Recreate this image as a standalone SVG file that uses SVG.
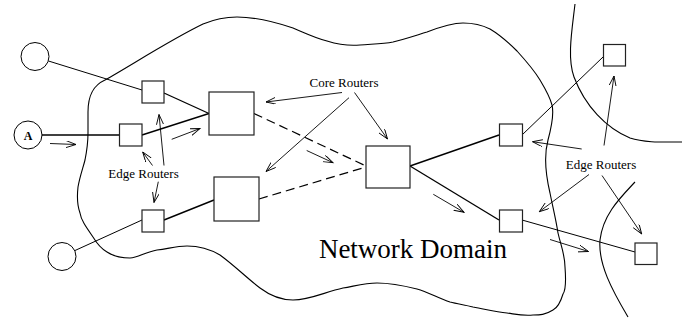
<svg xmlns="http://www.w3.org/2000/svg" width="687" height="322" viewBox="0 0 687 322">
<style>
.bg{fill:#fff}
.cloud{fill:none;stroke:#000;stroke-width:1.1}
.node{fill:#fff;stroke:#222;stroke-width:1.2}
.host{fill:#fff;stroke:#000;stroke-width:1}
.thin{fill:none;stroke:#000;stroke-width:1}
.thick{fill:none;stroke:#000;stroke-width:1.35}
.dash{fill:none;stroke:#000;stroke-width:1.2;stroke-dasharray:9,5}
.arr{fill:none;stroke:#000;stroke-width:0.9;marker-end:url(#ah)}
.lbl{font-family:"Liberation Serif","Times New Roman",serif;font-size:13px;fill:#000;text-anchor:middle}
.big{font-family:"Liberation Serif","Times New Roman",serif;font-size:27px;fill:#000;text-anchor:middle}
.a{font-family:"Liberation Serif","Times New Roman",serif;font-size:12px;font-weight:bold;fill:#000;text-anchor:middle}
</style>
<defs>
<marker id="ah" markerUnits="userSpaceOnUse" markerWidth="12" markerHeight="8" refX="10" refY="3.5" orient="auto">
<path d="M0,0 L10,3.5 L0,7" fill="none" stroke="#000" stroke-width="0.9"/>
</marker>
</defs>
<rect class="bg" x="0" y="0" width="687" height="322"/>
<g id="domain">
<path class="cloud" d="M88,112 C88,94 94,85 105,80 C130,66 170,40 203,24 C215,19 225,17 237,17 C255,17 275,22 293,28 C305,33 315,38 327,41 C340,45 350,46 360,45 C372,44 383,44 393,42 C405,39 417,35 427,32 C440,27 452,23 463,23 C475,23 482,25 490,29 C500,35 508,42 517,51 C527,62 534,70 540,80 C546,90 550,97 552,105 C554,113 552,125 548,140 C544,155 545,172 550,193 C553,208 556,220 558,233 C561,246 565,255 565,267 C566,280 566,290 563,294 C560,304 557,308 553,310 C545,315 540,315 533,315 C522,316 515,314 507,313 C495,312 485,309 473,307 C465,305 458,304 450,302 C438,298 428,292 417,289 C405,286 392,283 377,283 C365,283 355,286 343,288 C325,292 310,300 293,300 C280,300 268,294 260,288 C248,279 235,266 220,255 C208,248 198,246 187,246 C175,246 168,249 157,250 C145,252 138,258 130,258 C120,258 113,256 107,252 C100,248 96,242 93,237 C86,227 81,220 80,213 C77,205 77,196 78,187 C80,176 83,168 85,160 C87,150 88,140 88,133 Z"/>
<path class="cloud" d="M575,4 C572,30 567,58 574,77 C585,106 606,128 630,138 C645,143 665,142 682,142"/>
<path class="cloud" d="M635,182 C621,197 603,214 600,240 C598,264 612,290 628,317"/>
</g>
<g id="connectors">
<line class="thin" x1="48.5" y1="61" x2="142" y2="90"/>
<line class="thick" x1="42" y1="135" x2="119" y2="135"/>
<line class="thin" x1="75" y1="250.5" x2="142" y2="220"/>
<line class="thick" x1="164" y1="93" x2="209" y2="113.5"/>
<line class="thick" x1="142" y1="135" x2="209" y2="113.5"/>
<line class="thick" x1="164" y1="220" x2="214" y2="200"/>
<line class="dash" x1="254" y1="113.5" x2="366" y2="166"/>
<line class="dash" x1="259" y1="199" x2="366" y2="167"/>
<line class="thick" x1="410" y1="166" x2="499" y2="135"/>
<line class="thick" x1="410" y1="166" x2="499" y2="220"/>
<line class="thin" x1="522" y1="135" x2="603" y2="57"/>
<line class="thin" x1="522" y1="220" x2="635" y2="252"/>
</g>
<g id="flow-arrows">
<line class="arr" x1="50" y1="143.5" x2="76" y2="144.5"/>
<line class="arr" x1="171.7" y1="139.3" x2="200" y2="128.5"/>
<line class="arr" x1="306.7" y1="150.5" x2="333" y2="162.7"/>
<line class="arr" x1="433.3" y1="194.3" x2="464" y2="212.3"/>
<line class="arr" x1="550" y1="239.5" x2="588.5" y2="251.5"/>
</g>
<g id="host-top"><circle class="host" cx="35" cy="56.5" r="14"/></g>
<g id="host-a"><circle class="host" cx="28" cy="135" r="14"/><text class="a" x="28" y="139.5">A</text></g>
<g id="host-bottom"><circle class="host" cx="62" cy="256.5" r="14"/></g>
<g id="edge-l1"><rect class="node" x="142" y="81" width="22" height="22"/></g>
<g id="edge-l2"><rect class="node" x="119.5" y="124" width="22.5" height="22"/></g>
<g id="edge-l3"><rect class="node" x="142" y="210" width="22" height="22"/></g>
<g id="core-1"><rect class="node" x="209" y="92" width="45" height="43"/></g>
<g id="core-2"><rect class="node" x="214" y="177" width="45" height="44"/></g>
<g id="core-3"><rect class="node" x="366" y="146" width="44" height="42"/></g>
<g id="edge-r1"><rect class="node" x="499.5" y="124" width="23" height="22"/></g>
<g id="edge-r2"><rect class="node" x="499.5" y="210" width="23" height="22"/></g>
<g id="edge-far1"><rect class="node" x="603.5" y="44.5" width="22" height="21.5"/></g>
<g id="edge-far2"><rect class="node" x="635" y="243" width="22" height="21.5"/></g>
<g id="label-core">
<text class="lbl" x="344" y="87">Core Routers</text>
<line class="arr" x1="342" y1="92.5" x2="266" y2="102"/>
<line class="arr" x1="349" y1="97.7" x2="266" y2="171.5"/>
<line class="arr" x1="354.5" y1="92.5" x2="387.5" y2="139"/>
</g>
<g id="label-edge-left">
<text class="lbl" x="143.5" y="177.5">Edge Routers</text>
<line class="arr" x1="152.5" y1="165.5" x2="142.7" y2="152"/>
<line class="arr" x1="164" y1="165.5" x2="159" y2="114.5"/>
<line class="arr" x1="158.3" y1="181.7" x2="154" y2="202.5"/>
</g>
<g id="label-edge-right">
<text class="lbl" x="601" y="169">Edge Routers</text>
<line class="arr" x1="581.7" y1="149" x2="532.5" y2="141.7"/>
<line class="arr" x1="604" y1="145.5" x2="614" y2="76"/>
<line class="arr" x1="589" y1="174.5" x2="539.3" y2="211.7"/>
<line class="arr" x1="602" y1="175.5" x2="641.7" y2="234"/>
</g>
<text class="big" x="413" y="258">Network Domain</text>
</svg>
